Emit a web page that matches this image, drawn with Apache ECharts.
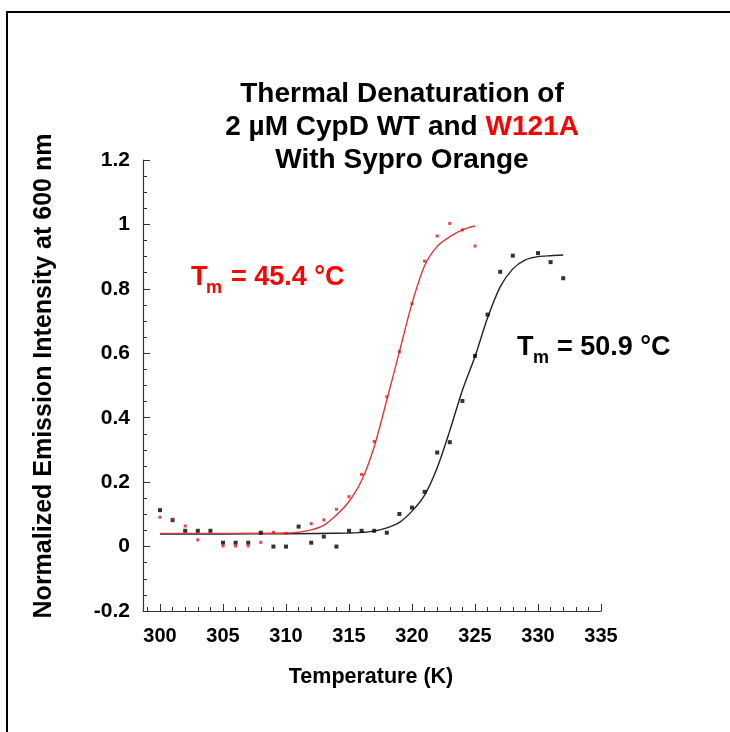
<!DOCTYPE html>
<html><head><meta charset="utf-8">
<script src="https://cdn.jsdelivr.net/npm/echarts@6/dist/echarts.min.js"></script>
<style>html,body{margin:0;padding:0;background:#fff}#c{width:730px;height:732px}</style>
</head><body><div id="c"></div>
<script>
// ---- data ----
const xMajorTicks = [300, 305, 310, 315, 320, 325, 330, 335];
const yTicks = [-0.2, 0, 0.2, 0.4, 0.6, 0.8, 1, 1.2];

// WT (black) measured points
const wtT = [300,301,302,303,304,305,306,307,308,309,310,311,312,313,314,315,316,317,318,319,320,321,322,323,324,325,326,327,328,330,331,332];
const wtV = [0.113,0.082,0.049,0.049,0.049,0.012,0.012,0.012,0.043,0.0,0.0,0.062,0.012,0.031,0.0,0.049,0.049,0.049,0.043,0.101,0.121,0.170,0.292,0.324,0.452,0.592,0.720,0.853,0.903,0.911,0.883,0.833];

// W121A (red) measured points
const mutT = [300,301,302,303,305,306,307,308,309,310,312,313,314,315,316,317,318,319,320,321,322,323,324,325];
const mutV = [0.091,0.085,0.064,0.021,0.002,0.002,0.002,0.013,0.044,0.041,0.071,0.083,0.116,0.155,0.224,0.326,0.465,0.605,0.754,0.886,0.964,1.003,0.983,0.933];

// fitted curves
const wtFitT = [300,305,310,315,316,317,318,319,320,321,322,323,324,325,326,327,328,329,330,331,332];
const wtFitV = [0.039,0.039,0.040,0.042,0.044,0.048,0.058,0.075,0.110,0.160,0.245,0.360,0.485,0.590,0.710,0.806,0.862,0.890,0.900,0.903,0.905];
const mutFitT = [300,305,310,311,312,313,314,315,316,317,318,319,320,321,322,323,324,325];
const mutFitV = [0.041,0.041,0.042,0.045,0.052,0.066,0.098,0.140,0.205,0.310,0.455,0.605,0.755,0.872,0.932,0.962,0.983,0.995];

const xMin = 298.65, xMax = 335;
const minorX = [];
for (let t = 299; t <= 335; t++) minorX.push(t);

const FONT = 'Liberation Sans, Arial, sans-serif';
const RED = '#ff0000';
const pairs = (a, b) => a.map((t, i) => [t, b[i]]);

const chart = echarts.init(document.getElementById('c'), null, {renderer: 'canvas'});
chart.setOption({
  backgroundColor: '#fff',
  animation: false,
  grid: {left: 143, right: 129, top: 160, bottom: 121, containLabel: false},
  xAxis: [{
    type: 'value', min: xMin, max: xMax,
    axisLine: {show: true, onZero: false, lineStyle: {color: '#333', width: 1.2}},
    axisTick: {show: true, inside: true, length: 7, customValues: xMajorTicks, lineStyle: {color: '#333'}},
    axisLabel: {customValues: xMajorTicks, fontFamily: FONT, fontWeight: 'bold', fontSize: 20, color: '#000', margin: 15},
    splitLine: {show: false}
  }, {
    type: 'value', min: xMin, max: xMax, position: 'bottom',
    axisLine: {show: false, onZero: false},
    axisTick: {show: true, inside: true, length: 4, customValues: minorX, lineStyle: {color: '#333'}},
    axisLabel: {show: false},
    splitLine: {show: false}
  }],
  yAxis: {
    type: 'value', min: -0.2, max: 1.2, interval: 0.2,
    axisLine: {show: true, onZero: false, lineStyle: {color: '#333', width: 1.2}},
    axisTick: {show: true, inside: true, length: 7, lineStyle: {color: '#333'}},
    minorTick: {show: true, splitNumber: 4, length: 4, lineStyle: {color: '#333'}},
    axisLabel: {fontFamily: FONT, fontWeight: 'bold', fontSize: 21, color: '#000', margin: 13},
    splitLine: {show: false}
  },
  series: [
    {type: 'line', data: pairs(wtFitT, wtFitV), smooth: 0.3, symbol: 'none',
     lineStyle: {color: '#222', width: 1.4}, z: 2},
    {type: 'line', data: pairs(mutFitT, mutFitV), smooth: 0.3, symbol: 'none',
     lineStyle: {color: '#e03838', width: 1.4}, z: 3},
    {type: 'scatter', data: pairs(wtT, wtV), symbol: 'rect', symbolSize: 4,
     itemStyle: {color: '#000'}, z: 4},
    {type: 'scatter', data: pairs(mutT, mutV), symbol: 'rect', symbolSize: 3,
     itemStyle: {color: '#e01818'}, z: 5}
  ],
  graphic: [
    {type: 'rect', shape: {x: 7, y: 12, width: 800, height: 800},
     style: {fill: 'none', stroke: '#000', lineWidth: 2}, z: 100, silent: true},
    {type: 'text', x: 402, y: 94, style: {text: 'Thermal Denaturation of', font: 'bold 28px ' + FONT, fill: '#000', align: 'center', verticalAlign: 'middle'}},
    {type: 'text', x: 402, y: 127, style: {text: '{k|2 µM CypD WT and }{r|W121A}', align: 'center', verticalAlign: 'middle',
      rich: {k: {font: 'bold 28px ' + FONT, fill: '#000'}, r: {font: 'bold 28px ' + FONT, fill: RED}}}},
    {type: 'text', x: 402, y: 160, style: {text: 'With Sypro Orange', font: 'bold 28px ' + FONT, fill: '#000', align: 'center', verticalAlign: 'middle'}},
    // Tm red
    {type: 'text', x: 191, y: 277.5, style: {text: 'T', font: 'bold 27px ' + FONT, fill: RED, align: 'left', verticalAlign: 'middle'}},
    {type: 'text', x: 206, y: 288, style: {text: 'm', font: 'bold 18px ' + FONT, fill: RED, align: 'left', verticalAlign: 'middle'}},
    {type: 'text', x: 231, y: 277.5, style: {text: '= 45.4 °C', font: 'bold 27px ' + FONT, fill: RED, align: 'left', verticalAlign: 'middle'}},
    // Tm black
    {type: 'text', x: 517, y: 347.8, style: {text: 'T', font: 'bold 27px ' + FONT, fill: '#000', align: 'left', verticalAlign: 'middle'}},
    {type: 'text', x: 533, y: 358, style: {text: 'm', font: 'bold 18px ' + FONT, fill: '#000', align: 'left', verticalAlign: 'middle'}},
    {type: 'text', x: 557, y: 347.8, style: {text: '= 50.9 °C', font: 'bold 27px ' + FONT, fill: '#000', align: 'left', verticalAlign: 'middle'}},
    // axis names
    {type: 'text', x: 371, y: 677, style: {text: 'Temperature (K)', font: 'bold 21.5px ' + FONT, fill: '#000', align: 'center', verticalAlign: 'middle'}},
    {type: 'text', x: 44, y: 376, rotation: Math.PI / 2, style: {text: 'Normalized Emission Intensity at 600 nm', font: 'bold 25px ' + FONT, fill: '#000', align: 'center', verticalAlign: 'middle'}}
  ]
});
</script>
</body></html>
